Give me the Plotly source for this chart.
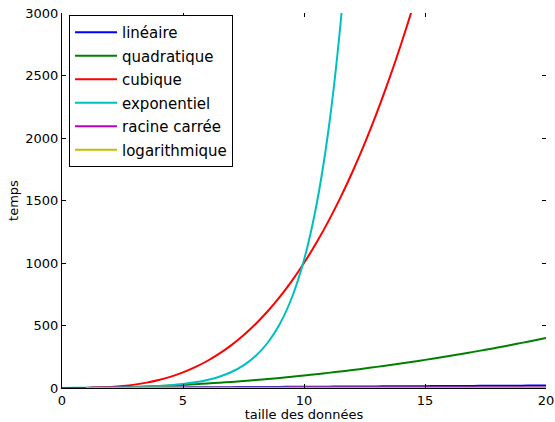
import plotly.graph_objects as go

# Data
x_values = [0, 0.5, 1, 1.5, 2, 2.5, 3, 3.5, 4, 4.5, 5, 5.5, 6, 6.5, 7, 7.5, 8, 8.5, 9, 9.5,
            10, 10.5, 11, 11.5, 12, 12.5, 13, 13.5, 14, 14.5, 15, 15.5, 16, 16.5, 17, 17.5,
            18, 18.5, 19, 19.5, 20]
lineaire = list(x_values)
quadratique = [0, 0.25, 1, 2.25, 4, 6.25, 9, 12.25, 16, 20.25, 25, 30.25, 36, 42.25, 49, 56.25,
               64, 72.25, 81, 90.25, 100, 110.25, 121, 132.25, 144, 156.25, 169, 182.25, 196,
               210.25, 225, 240.25, 256, 272.25, 289, 306.25, 324, 342.25, 361, 380.25, 400]
cubique = [0, 0.125, 1, 3.375, 8, 15.6, 27, 42.9, 64, 91.1, 125, 166.4, 216, 274.6, 343, 421.9,
           512, 614.1, 729, 857.4, 1000, 1157.6, 1331, 1520.9, 1728, 1953.1, 2197, 2460.4, 2744,
           3048.6, 3375]
exponentiel = [1, 1.41, 2, 2.83, 4, 5.66, 8, 11.3, 16, 22.6, 32, 45.3, 64, 90.5, 128, 181, 256,
               362, 512, 724, 1024, 1448, 2048, 2896, 4096]
racine = [0, 0.71, 1, 1.22, 1.41, 1.58, 1.73, 1.87, 2, 2.12, 2.24, 2.35, 2.45, 2.55, 2.65, 2.74,
          2.83, 2.92, 3, 3.08, 3.16, 3.24, 3.32, 3.39, 3.46, 3.54, 3.61, 3.67, 3.74, 3.81, 3.87,
          3.94, 4, 4.06, 4.12, 4.18, 4.24, 4.30, 4.36, 4.42, 4.47]
log_x = x_values[2:]
logarithmique = [0, 0.41, 0.69, 0.92, 1.10, 1.25, 1.39, 1.50, 1.61, 1.70, 1.79, 1.87, 1.95, 2.01,
                 2.08, 2.14, 2.20, 2.25, 2.30, 2.35, 2.40, 2.44, 2.48, 2.53, 2.56, 2.60, 2.64,
                 2.67, 2.71, 2.74, 2.77, 2.80, 2.83, 2.86, 2.89, 2.92, 2.94, 2.97, 3.00]

x_ticks = [0, 5, 10, 15, 20]
y_ticks = [0, 500, 1000, 1500, 2000, 2500, 3000]

series = [
    ("linéaire", x_values, lineaire, "rgb(0,0,255)"),
    ("quadratique", x_values, quadratique, "rgb(0,128,0)"),
    ("cubique", x_values[:len(cubique)], cubique, "rgb(255,0,0)"),
    ("exponentiel", x_values[:len(exponentiel)], exponentiel, "rgb(0,191,191)"),
    ("racine carrée", x_values, racine, "rgb(191,0,191)"),
    ("logarithmique", log_x, logarithmique, "rgb(191,191,0)"),
]

fig = go.Figure()
for i, (name, xs, ys, col) in enumerate(series):
    fig.add_trace(go.Scatter(x=xs, y=ys, mode="lines", name=name, legendgroup=f"g{i}",
                             line=dict(color=col, width=2, shape="spline")))
# invisible trace to carry the mirrored axes (ticks only, no spine)
fig.add_trace(go.Scatter(x=[0], y=[0], xaxis="x2", yaxis="y2", mode="lines",
                         showlegend=False, hoverinfo="skip", line=dict(width=0)))

font = "DejaVu Sans, Liberation Sans, sans-serif"
fig.update_layout(
    width=555, height=422,
    margin=dict(l=62, r=9, t=13, b=34, autoexpand=False),
    paper_bgcolor="white", plot_bgcolor="white",
    font=dict(family=font, size=13, color="black"),
    xaxis=dict(range=[0, 20], tickvals=x_ticks, showgrid=False, zeroline=False,
               showline=True, linecolor="black", linewidth=1, automargin=False,
               ticks="inside", ticklen=4, tickcolor="black",
               title=dict(text="taille des données", font=dict(size=13), standoff=6)),
    yaxis=dict(range=[0, 3000], tickvals=y_ticks, showgrid=False, zeroline=False,
               showline=True, linecolor="black", linewidth=1, automargin=False,
               ticks="inside", ticklen=4, tickcolor="black",
               title=dict(text="temps", font=dict(size=13), standoff=3)),
    xaxis2=dict(range=[0, 20], tickvals=x_ticks, overlaying="x", side="top",
                showticklabels=False, showgrid=False, zeroline=False, showline=False,
                automargin=False, ticks="inside", ticklen=4, tickcolor="black"),
    yaxis2=dict(range=[0, 3000], tickvals=y_ticks, overlaying="y", side="right",
                showticklabels=False, showgrid=False, zeroline=False, showline=False,
                automargin=False, ticks="inside", ticklen=4, tickcolor="black"),
    legend=dict(x=0.0145, y=0.9947, xanchor="left", yanchor="top",
                bgcolor="white", bordercolor="black", borderwidth=1,
                font=dict(size=15), tracegroupgap=1, itemwidth=42),
    showlegend=True,
)

fig.write_html("out.html")
